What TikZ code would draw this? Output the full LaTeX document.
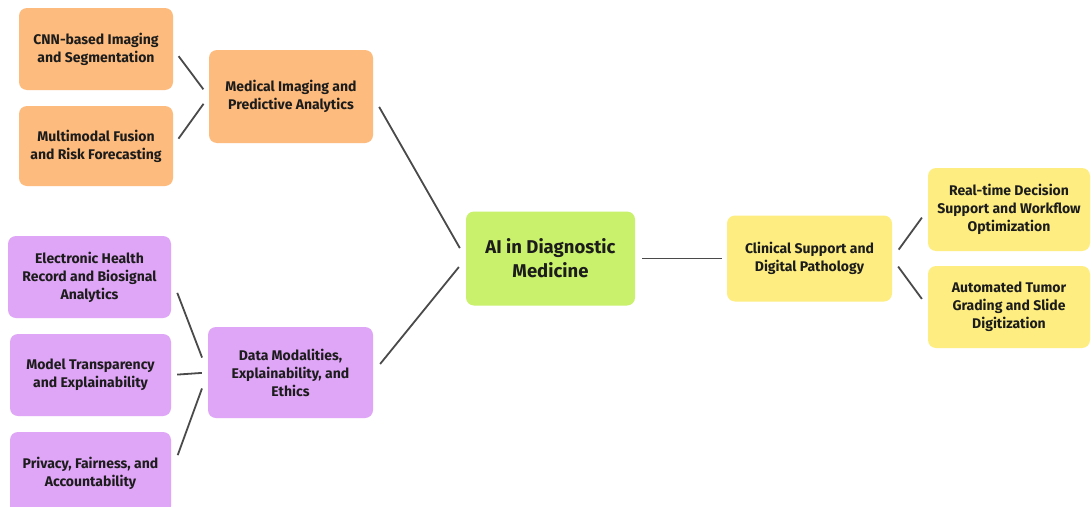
\documentclass[tikz,border=0pt]{standalone}
\usepackage{fontspec}
\setmainfont{Fira Sans}
\definecolor{orangebox}{HTML}{FDBB7D}
\definecolor{purplebox}{HTML}{DFA5F6}
\definecolor{greenbox}{HTML}{C9F16B}
\definecolor{yellowbox}{HTML}{FEEE82}
\definecolor{linkgray}{HTML}{4A4A4A}
\definecolor{txt}{HTML}{1C1C1C}
\tikzset{
  box/.style={rectangle, rounded corners=8pt, draw=none, inner sep=0pt, align=center,
    text=txt, font=\fontsize{14pt}{18pt}\selectfont\bfseries},
  title/.style={box, font=\fontsize{18.5pt}{24pt}\selectfont\bfseries},
  link/.style={draw=linkgray, line width=1.8pt},
}
\begin{document}
\begin{tikzpicture}[x=1pt,y=-1pt]
\fill[white] (0,0) rectangle (1091,506);
\useasboundingbox (0,0) rectangle (1091,506);
\clip (0,0) rectangle (1091,506);
% orange
\node[box, fill=orangebox, minimum width=154pt, minimum height=82pt] (cnn) at (96,49) {CNN-based Imaging\\and Segmentation};
\node[box, fill=orangebox, minimum width=154pt, minimum height=80pt] (multi) at (96,146) {Multimodal Fusion\\and Risk Forecasting};
\node[box, fill=orangebox, minimum width=164pt, minimum height=93pt] (med) at (291,96.5) {Medical Imaging and\\Predictive Analytics};
% purple
\node[box, fill=purplebox, minimum width=163pt, minimum height=82pt] (ehr) at (89.5,277) {Electronic Health\\Record and Biosignal\\Analytics};
\node[box, fill=purplebox, minimum width=161pt, minimum height=82pt] (model) at (90.5,375) {Model Transparency\\and Explainability};
\node[box, fill=purplebox, minimum width=161pt, minimum height=82pt] (priv) at (90.5,473) {Privacy, Fairness, and\\Accountability};
\node[box, fill=purplebox, minimum width=165pt, minimum height=91pt] (data) at (290.5,372.5) {Data Modalities,\\Explainability, and\\Ethics};
% green
\node[title, fill=greenbox, minimum width=169pt, minimum height=94pt] (ai) at (550.5,258.5) {AI in Diagnostic\\Medicine};
% yellow
\node[box, fill=yellowbox, minimum width=165pt, minimum height=86pt] (clin) at (809.5,258.5) {Clinical Support and\\Digital Pathology};
\node[box, fill=yellowbox, minimum width=162pt, minimum height=83pt] (real) at (1009,209.5) {Real-time Decision\\Support and Workflow\\Optimization};
\node[box, fill=yellowbox, minimum width=162pt, minimum height=82pt] (auto) at (1009,307) {Automated Tumor\\Grading and Slide\\Digitization};
% links
\draw[link, shorten <=9pt, shorten >=9pt] (cnn.east) -- (med.west);
\draw[link, shorten <=9pt, shorten >=9pt] (multi.east) -- (med.west);
\draw[link, shorten <=12pt, shorten >=12pt] (med.east) -- (ai.west);
\draw[link, shorten <=11pt, shorten >=11pt] (data.east) -- (ai.west);
\draw[link, shorten <=17pt, shorten >=16pt] (ehr.east) -- (data.west);
\draw[link, shorten <=6pt, shorten >=6pt] (model.east) -- (data.west);
\draw[link, shorten <=19pt, shorten >=17pt] (priv.east) -- (data.west);
\draw[link, shorten <=7pt, shorten >=5pt] (ai.east) -- (clin.west);
\draw[link, shorten <=11pt, shorten >=10pt] (clin.east) -- (real.west);
\draw[link, shorten <=10pt, shorten >=10pt] (clin.east) -- (auto.west);
\end{tikzpicture}
\end{document}
